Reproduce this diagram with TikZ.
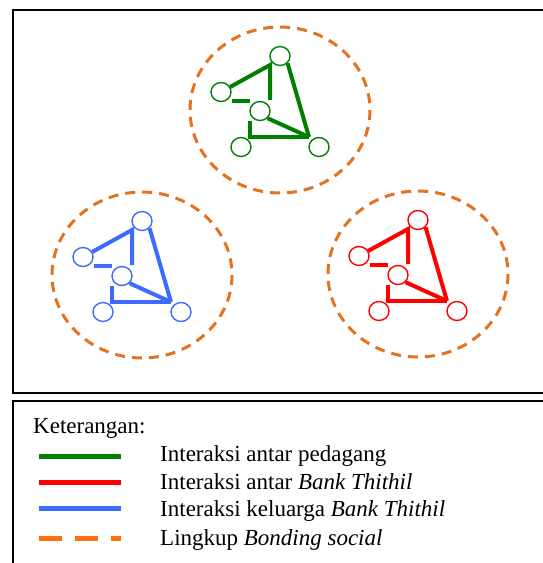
\documentclass[tikz,border=0pt]{standalone}
\usepackage{fontspec}
\setmainfont{Liberation Serif}
\usetikzlibrary{shapes.geometric}

\definecolor{pedagang}{RGB}{0,128,0}
\definecolor{bank}{RGB}{255,0,0}
\definecolor{keluarga}{RGB}{61,107,255}
\definecolor{lingkup}{RGB}{228,114,30}
\definecolor{lingkupkey}{RGB}{255,112,16}

\begin{document}
\begin{tikzpicture}[x=1pt, y=-1pt,
  member/.style={ellipse, draw=#1, line width=1.4pt, minimum width=20pt, minimum height=19pt, inner sep=0pt, fill=white},
  tie/.style={draw=#1, line width=4pt},
  bonding/.style={draw=lingkup, line width=3pt, dash pattern=on 10pt off 7pt},
  frame/.style={draw=black, line width=1.3pt},
  keyline/.style={draw=#1, line width=5pt},
  keytext/.style={anchor=base west, inner sep=0pt, font=\fontsize{23}{26}\selectfont}]
  \useasboundingbox (0,0) rectangle (543,563);
  \draw[frame] (13,10) rectangle (560,393);
  \draw[frame] (13,401) rectangle (560,580);

  % three groups: centre x / centre y / colour / name prefix
  \foreach \cx/\cy/\col/\p in {280/110/pedagang/g, 142/275/keluarga/b, 418/274/bank/r} {
    \begin{scope}[shift={(\cx,\cy)}]
      \draw[bonding] (0,0) ellipse (90 and 83);
      \node[member=\col] (\p T) at (0,-54) {};
      \node[member=\col] (\p L) at (-59,-18) {};
      \node[member=\col] (\p M) at (-20,1) {};
      \node[member=\col] (\p A) at (-39,37) {};
      \node[member=\col] (\p B) at (39,37) {};
      \coordinate (\p k) at (-10,-45);
      \coordinate (\p v) at (-10,-10);
      \coordinate (\p h) at (-30,-9);
      \coordinate (\p c) at (-30,27);
      \coordinate (\p j) at (29,27);
      \draw[tie=\col] (\p L) -- (\p k) -- (\p v);
      \draw[tie=\col] (\p L.east |- \p h) -- (\p h);
      \draw[tie=\col] (\p T.south east) -- (\p j);
      \draw[tie=\col] (\p M.south east) -- (\p j);
      \draw[tie=\col] (\p c |- \p M.south) -- (\p c) -- (\p j);
    \end{scope}
  }

  % legend
  \node[keytext] (ket) at (33,433) {Keterangan:};
  \node[keytext] (k1) at (160,461.5) {Interaksi antar pedagang};
  \node[keytext] (k2) at (160,489) {Interaksi antar \textit{Bank Thithil}};
  \node[keytext] (k3) at (160,516.5) {Interaksi keluarga \textit{Bank Thithil}};
  \node[keytext] (k4) at (160,545) {Lingkup \textit{Bonding social}};
  \coordinate (s1) at (39,456);
  \coordinate (s2) at (39,482);
  \coordinate (s3) at (39,508);
  \coordinate (s4) at (39,538);
  \draw[keyline=pedagang] (s1) -- ++(82,0);
  \draw[keyline=bank] (s2) -- ++(82,0);
  \draw[keyline=keluarga] (s3) -- ++(82,0);
  \draw[keyline=lingkupkey, dash pattern=on 23pt off 13pt] (s4) -- ++(82,0);
\end{tikzpicture}
\end{document}
